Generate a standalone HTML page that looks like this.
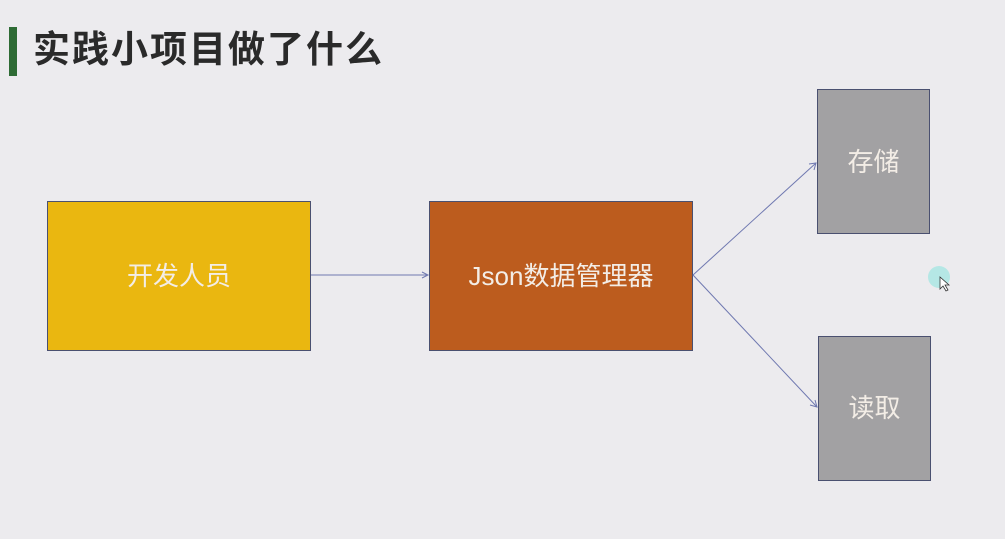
<!DOCTYPE html>
<html><head><meta charset="utf-8"><style>
body{margin:0;width:1005px;height:539px;background:#ecebee;position:relative;overflow:hidden;font-family:"Liberation Sans","Noto Sans CJK SC",sans-serif}
.b{position:absolute;box-sizing:border-box;border:1px solid #4a5070;color:#f3ede6;font-size:26px;display:flex;justify-content:center}
</style></head><body>
<div style="position:absolute;left:9px;top:27px;width:8px;height:49px;background:#2e6b35"></div>
<div style="position:absolute;left:33px;top:27px;font-size:37px;font-weight:bold;color:#2a2a2a;letter-spacing:2px;line-height:46px">实践小项目做了什么</div>
<div class="b" style="left:47px;top:201px;width:264px;height:150px;background:#eab710;align-items:center;padding-bottom:4px">开发人员</div>
<div class="b" style="left:429px;top:201px;width:264px;height:150px;background:#bc5c1e;align-items:center;padding-bottom:4px">Json数据管理器</div>
<div class="b" style="left:817px;top:89px;width:113px;height:145px;background:#a2a1a3;align-items:flex-start;padding-top:52px">存储</div>
<div class="b" style="left:818px;top:336px;width:113px;height:145px;background:#a2a1a3;align-items:flex-start;padding-top:51px">读取</div>
<svg width="1005" height="539" style="position:absolute;left:0;top:0">
<g stroke="#6f78b0" stroke-width="1" fill="none">
<line x1="311" y1="275" x2="428" y2="275"/><polyline points="422,272 428,275 422,278"/>
<line x1="693" y1="275" x2="816" y2="163"/><polyline points="809,164 816,163 814,170"/>
<line x1="693" y1="275" x2="817" y2="407"/><polyline points="815,400 817,407 810,405"/>
</g>
<circle cx="939" cy="277" r="11" fill="#a8e6e2" opacity="0.8"/>
<path d="M940 277 l0 12 l3 -3 l3 5 l2 -1 l-3 -5 l4 0 z" fill="#fff" stroke="#333" stroke-width="0.8"/>
</svg>
</body></html>
